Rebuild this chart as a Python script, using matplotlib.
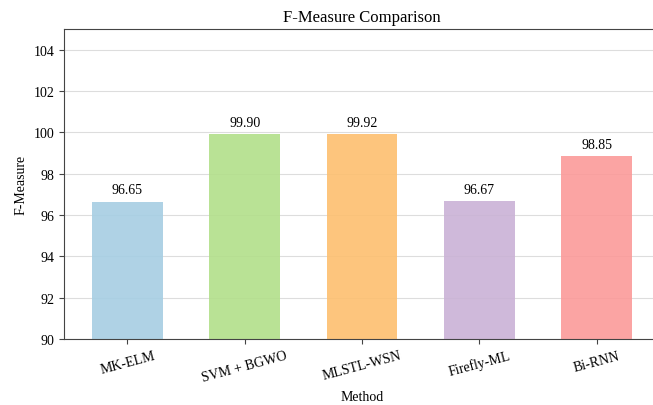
import matplotlib
matplotlib.use("Agg")
import matplotlib.pyplot as plt

methods = ["MK-ELM", "SVM + BGWO", "MLSTL-WSN", "Firefly-ML", "Bi-RNN"]
f_measure = [96.65, 99.90, 99.92, 96.67, 98.85]
colors = ["#a6cee3", "#b2df8a", "#fdbf6f", "#cab2d6", "#fb9a99"]

plt.rcParams["font.family"] = ["Liberation Serif", "DejaVu Serif"]

fig = plt.figure(figsize=(6.53, 4.06), dpi=100)
ax = fig.add_axes([64 / 653, 1 - 340 / 406, (660 - 64) / 653, (340 - 30) / 406])

x = range(len(methods))
ax.bar(x, f_measure, width=0.6, color=colors, alpha=0.9, zorder=2)
for xi, v in zip(x, f_measure):
    ax.text(xi, v + 0.25, f"{v:.2f}", ha="center", va="bottom", fontsize=10)

ax.set_ylim(90, 105)
ax.set_xlim(-0.54, 4.54)
ax.set_yticks(range(90, 105, 2))
ax.set_xticks(list(x))
ax.set_xticklabels(methods, rotation=15, fontsize=10)
ax.tick_params(axis="y", labelsize=10)
ax.tick_params(color="#444444")
for s in ax.spines.values():
    s.set_color("#444444")
ax.grid(axis="y", color="#dddddd", linewidth=0.8, zorder=0)
ax.set_axisbelow(True)
ax.set_title("F-Measure Comparison", fontsize=12)
ax.set_xlabel("Method", fontsize=10)
ax.set_ylabel("F-Measure", fontsize=10)

fig.savefig("out.png", dpi=100)
